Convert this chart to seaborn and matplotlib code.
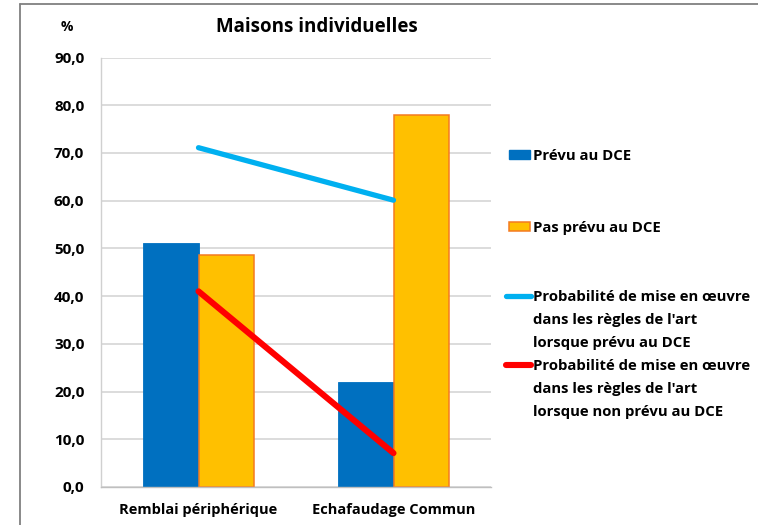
import numpy as np
import pandas as pd
import matplotlib
matplotlib.use("Agg")
import matplotlib.pyplot as plt
import seaborn as sns
from matplotlib.patches import Patch
from matplotlib.lines import Line2D

# ---------------- data ----------------
categories = ["Remblai périphérique", "Echafaudage Commun"]
prevu = [51.2, 22.1]
pas_prevu = [48.7, 77.9]
proba_prevu = [71.1, 60.1]
proba_non_prevu = [41.0, 7.1]
series_labels = [
    "Prévu au DCE",
    "Pas prévu au DCE",
    "Probabilité de mise en œuvre\ndans les règles de l'art\nlorsque prévu au DCE",
    "Probabilité de mise en œuvre\ndans les règles de l'art\nlorsque non prévu au DCE",
]
yticks = [0, 10, 20, 30, 40, 50, 60, 70, 80, 90]
ytick_labels = ["0,0", "10,0", "20,0", "30,0", "40,0", "50,0", "60,0", "70,0", "80,0", "90,0"]
title = "Maisons individuelles"
unit = "%"

# ---------------- style ----------------
BLUE = "#0070C0"
ORANGE = "#FFC000"
ORANGE_EDGE = "#F47A20"
LIGHTBLUE = "#00B0F0"
RED = "#FF0000"

sns.set_theme(style="white")
plt.rcParams["font.family"] = ["Open Sans", "DejaVu Sans"]
plt.rcParams["font.weight"] = "bold"
plt.rcParams["text.color"] = "black"

W, H = 758, 525
fig = plt.figure(figsize=(W / 100, H / 100), dpi=100)
ax = fig.add_axes([101 / W, 38 / H, 390 / W, 429.5 / H])

df = pd.DataFrame({
    "cat": categories * 2,
    "val": prevu + pas_prevu,
    "serie": [series_labels[0]] * len(categories) + [series_labels[1]] * len(categories),
})
sns.barplot(data=df, x="cat", y="val", hue="serie", palette=[BLUE, ORANGE],
            width=0.573, gap=0, saturation=1, errorbar=None, legend=False, ax=ax)
for bar in ax.containers[0]:
    bar.set_edgecolor(BLUE)
    bar.set_linewidth(0.6)
for bar in ax.containers[1]:
    bar.set_edgecolor(ORANGE_EDGE)
    bar.set_linewidth(1.1)

x_idx = np.arange(len(categories))
sns.lineplot(x=x_idx, y=proba_prevu, color=LIGHTBLUE, linewidth=3.8,
             solid_capstyle="round", ax=ax, zorder=5)
sns.lineplot(x=x_idx, y=proba_non_prevu, color=RED, linewidth=4.4,
             solid_capstyle="round", ax=ax, zorder=6)

ax.set_xlim(-0.5, 1.5)
ax.set_ylim(0, 90)
ax.set_yticks(yticks)
ax.set_yticklabels(ytick_labels)
ax.set_xticks(x_idx)
ax.set_xticklabels(categories)
ax.set_xlabel("")
ax.set_ylabel("")
ax.tick_params(axis="y", length=0, pad=12, labelsize=11, labelcolor="black")
ax.tick_params(axis="x", length=0, pad=11.5, labelsize=10.5, labelcolor="black")
for lab in ax.get_xticklabels() + ax.get_yticklabels():
    lab.set_fontweight("bold")
ax.yaxis.grid(True, color="#D9D9D9", linewidth=1.3)
ax.set_axisbelow(True)
for s in ["top", "right"]:
    ax.spines[s].set_visible(False)
ax.spines["left"].set_color("#D0D0D0")
ax.spines["left"].set_linewidth(1.0)
ax.spines["bottom"].set_color("#BFBFBF")
ax.spines["bottom"].set_linewidth(1.0)

fig.text(317 / W, 1 - 27 / H, title, ha="center", va="center", fontsize=13.5, fontweight="bold")
fig.text(67 / W, 1 - 27 / H, unit, ha="center", va="center", fontsize=10, fontweight="bold")

# outer frame (top and left edges)
fig.add_artist(Line2D([20 / W, 1], [1 - 3.5 / H] * 2, color="#808080", lw=1.3, transform=fig.transFigure))
fig.add_artist(Line2D([20 / W] * 2, [0, 1 - 3.5 / H], color="#808080", lw=1.3, transform=fig.transFigure))

# legend (one entry per block so that keys sit on the first text line)
handles = [
    Patch(facecolor=BLUE, edgecolor=BLUE),
    Patch(facecolor=ORANGE, edgecolor=ORANGE_EDGE, linewidth=1.1),
    Line2D([], [], color=LIGHTBLUE, lw=3.8, solid_capstyle="round"),
    Line2D([], [], color=RED, lw=4.4, solid_capstyle="round"),
]
ys = [156, 228, 297, 366]
xs = [509, 509, 506, 506]
fs = 10.7
hls = [21 / 14.86, 21 / 14.86, 25 / 14.86, 25 / 14.86]
pads = [3 / 14.86, 3 / 14.86, 2 / 14.86, 2 / 14.86]
legs = []
for h, lab, y, x, hl, pd_ in zip(handles, series_labels, ys, xs, hls, pads):
    first = lab.split("\n")[0]
    leg = fig.legend(handles=[h], labels=[first], loc="center left",
                     bbox_to_anchor=(x / W, 1 - y / H), frameon=False,
                     borderpad=0, borderaxespad=0, handlelength=hl,
                     handletextpad=pd_, handleheight=0.55,
                     prop={"size": fs, "weight": "bold"})
    legs.append((leg, lab))

fig.canvas.draw()
for leg, lab in legs:
    lines = lab.split("\n")
    if len(lines) > 1:
        bb = leg.get_texts()[0].get_window_extent()
        yc = (bb.y0 + bb.y1) / 2
        for i, line in enumerate(lines[1:], start=1):
            fig.text(bb.x0 / W, (yc - 23 * i) / H, line, ha="left", va="center",
                     fontsize=fs, fontweight="bold")

fig.savefig("out.png", dpi=100)
